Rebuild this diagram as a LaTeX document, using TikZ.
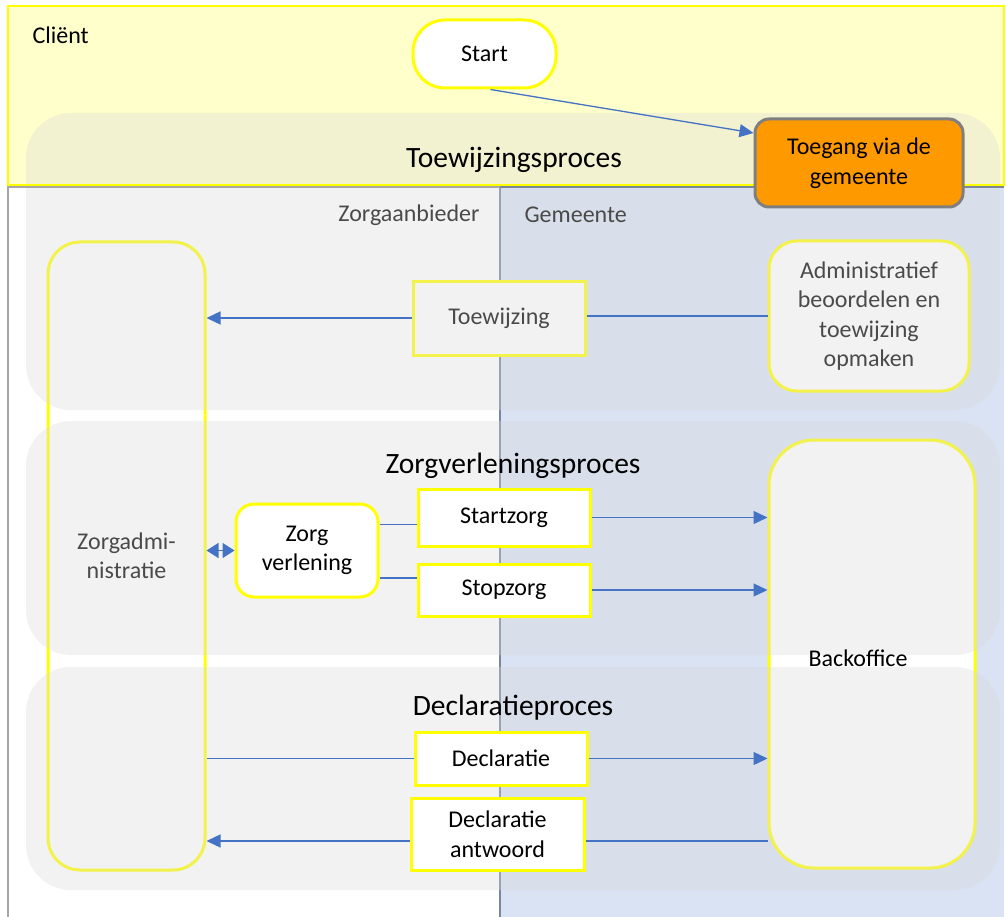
\documentclass[tikz,border=0pt]{standalone}
\usepackage{fontspec}
\setmainfont{Carlito}
\usetikzlibrary{arrows.meta}
\definecolor{laneyellow}{HTML}{FFFFCC}
\definecolor{boxyellow}{HTML}{FFFF00}
\definecolor{flowblue}{HTML}{4472C4}
\definecolor{gemblue}{HTML}{DAE3F3}
\definecolor{orangebox}{HTML}{FF9900}
\definecolor{bandgray}{HTML}{D9D9D9}
\definecolor{lanegray}{HTML}{A6A6A6}
\definecolor{laneslate}{HTML}{7A8799}
\definecolor{edgegray}{HTML}{7F7F7F}

\begin{document}
\begin{tikzpicture}[x=1pt,y=-1pt,
    box/.style={draw=boxyellow,line width=3pt,fill=white,align=center,inner sep=0pt,font=\fontsize{24}{29.5}\selectfont},
    lanetext/.style={font=\fontsize{24}{29.5}\selectfont},
    band/.style={fill=bandgray,fill opacity=0.34,rounded corners=45pt},
    title/.style={font=\fontsize{29.5}{35}\selectfont},
    flow/.style={draw=flowblue,line width=1.3pt},
    arr/.style={flow,-{Triangle[length=14pt,width=13pt]}}]

  \useasboundingbox (0,0) rectangle (1006,917);

  % lanes
  \fill[laneyellow] (8,6) rectangle (1004,185);
  \fill[white] (8,186) rectangle (500,917);
  \fill[gemblue] (500,186) rectangle (1004,917);
  \draw[laneslate,line width=2pt] (500,186) -- (500,917);

  \node[lanetext,anchor=west] (client) at (29,35) {Cliënt};
  \node[lanetext,anchor=east] (zorgaanb) at (483,215) {Zorgaanbieder};
  \node[lanetext,anchor=west] (gemeente) at (521,215) {Gemeente};

  % boxes under the process bands
  \node[box,minimum width=172pt,minimum height=74pt] (toew) at (499,318) {Toewijzing};
  \node[box,rounded corners=28pt,minimum width=200pt,minimum height=150pt] (admin) at (869,316)
    {Administratief\\beoordelen en\\toewijzing\\opmaken};
  \node[box,rounded corners=32pt,minimum width=157pt,minimum height=628pt] (zadm) at (126.5,556)
    {Zorgadmi-\\nistratie};
  \node[box,rounded corners=45pt,minimum width=206pt,minimum height=428pt] (back) at (872,654) {};

  % process bands
  \fill[band] (26,113) rectangle (1000,410);
  \fill[band] (26,421) rectangle (1000,655);
  \fill[band] (26,667) rectangle (1000,890);

  \draw[boxyellow,line width=2.5pt] (8,6) rectangle (1004,185);
  \draw[lanegray,line width=2pt] (8,917) -- (8,187) -- (500,187);
  \draw[laneslate,line width=2pt] (500,187) -- (1004,187);

  \node[title] (ttoew) at (514,160) {Toewijzingsproces};
  \node[title] (tzorg) at (513,466) {Zorgverleningsproces};
  \node[title] (tdecl) at (513,708) {Declaratieproces};
  \node[lanetext] (backtext) at (858,658) {Backoffice};

  % boxes on top
  \node[box,rounded corners=32pt,minimum width=143pt,minimum height=68pt] (start) at (484.5,54) {Start};
  \node[box,draw=edgegray,fill=orangebox,rounded corners=14pt,minimum width=208pt,minimum height=88pt] (toegang) at (859,163)
    {Toegang via de\\gemeente};
  \node[box,rounded corners=18pt,minimum width=142pt,minimum height=93pt] (zv) at (307,550.5) {Zorg\\verlening};
  \node[box,minimum width=172pt,minimum height=57pt] (startz) at (504,517.5) {Startzorg};
  \node[box,minimum width=172pt,minimum height=52pt] (stopz) at (504,590) {Stopzorg};
  \node[box,minimum width=172pt,minimum height=53pt] (decl) at (501,758.5) {Declaratie};
  \node[box,minimum width=173pt,minimum height=72pt] (antw) at (497.5,834) {Declaratie\\antwoord};

  % connectors
  \draw[arr] ([xshift=6pt]start.south) -- ([yshift=30pt]toegang.west);

  \draw[flow] (admin.west) -- (admin.west -| toew.east);
  \draw[arr] (toew.west) -- (toew.west -| zadm.east);

  \draw[flow,{Triangle[length=12pt,width=15pt]}-{Triangle[length=12pt,width=15pt]}] (zv.west -| zadm.east) -- (zv.west);

  \draw[flow] ([yshift=-7pt]startz.west) -- ([yshift=-7pt]startz.west -| zv.east);
  \draw[flow] ([yshift=12pt]stopz.west) -- ([yshift=12pt]stopz.west -| zv.east);
  \draw[arr] (startz.east) -- (startz.east -| back.west);
  \draw[arr] (stopz.east) -- (stopz.east -| back.west);

  \draw[flow] (decl.west -| zadm.east) -- (decl.west);
  \draw[arr] (decl.east) -- (decl.east -| back.west);

  \draw[flow] ([yshift=-7pt]back.west |- antw.east) -- ([yshift=-7pt]antw.east);
  \draw[arr] ([yshift=-7pt]antw.west) -- ([yshift=-7pt]antw.west -| zadm.east);

\end{tikzpicture}
\end{document}
